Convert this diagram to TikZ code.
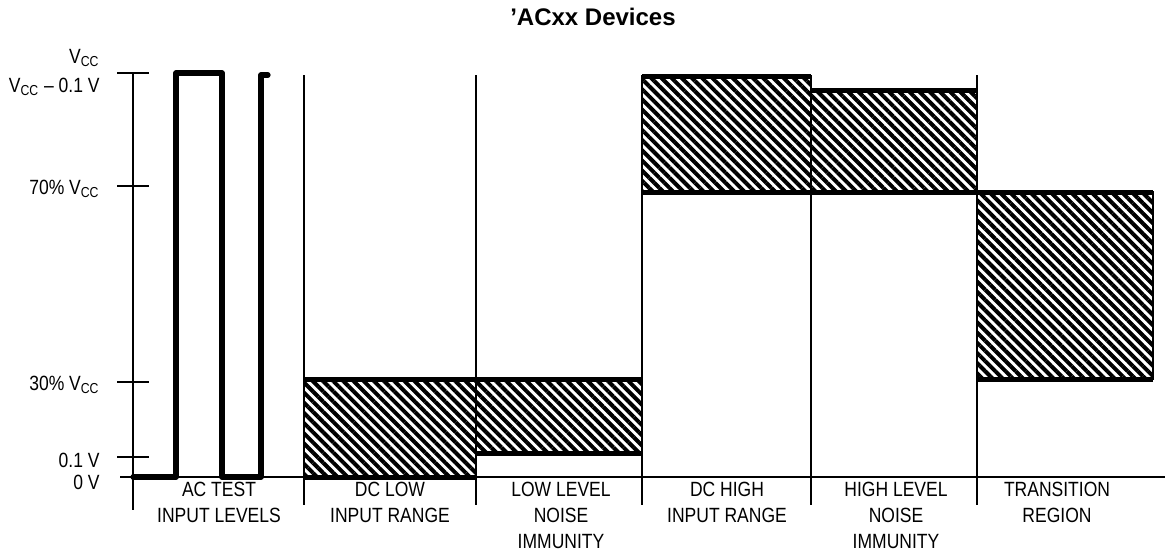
\documentclass[tikz,border=0pt]{standalone}
\usepackage{fontspec}
\setmainfont{Liberation Sans}[FakeStretch=0.85]
\newfontfamily\titlefont{Liberation Sans}
\usetikzlibrary{patterns.meta}
\newcommand{\Vcc}{V\textsubscript{CC}}
\tikzset{
  thinline/.style={line width=0.9pt},
  wave/.style={line width=2.6pt, line join=round, line cap=round},
  hatchbox/.style={line width=1.1pt, pattern={Lines[angle=-45, distance=3.6pt, line width=2pt]}},
  boxedge/.style={line width=2.5pt},
  lvl/.style={anchor=east, inner sep=0pt, font=\fontsize{10.3}{12}\selectfont},
  col/.style={anchor=north, inner sep=0pt, align=center, font=\fontsize{10.3}{13}\selectfont},
  titletext/.style={font=\titlefont\bfseries\fontsize{12}{14}\selectfont},
}

\begin{document}
\begin{tikzpicture}[x=0.5pt, y=-0.5pt]
  \useasboundingbox (0,0) rectangle (1170,557);
  \node[titletext] (title) at (593,17) {’ACxx Devices};

  % axis, ticks and column borders
  \draw[thinline] (133,73) -- (133,510);
  \foreach \y in {73,186,382,457} \draw[thinline] (117,\y) -- (149,\y);
  \draw[thinline] (120,477) -- (1165,477);
  \foreach \x in {304,476,642,811,977} \draw[thinline] (\x,75) -- (\x,505);

  % hatched ranges
  \foreach \xa/\xb/\ya/\yb in {304/476/379/477, 476/642/379/453, 642/811/76/192, 811/977/90/192, 977/1153/192/379} {
    \draw[hatchbox] (\xa,\ya) rectangle (\xb,\yb);
    \draw[boxedge] (\xa,\ya) -- (\xb,\ya) (\xa,\yb) -- (\xb,\yb);
  }

  % test waveform
  \draw[wave] (133,477) -- (176,477) -- (176,73) -- (222,73) -- (222,477) -- (261,477) -- (261,75) -- (268,75);

  % level labels
  \node[lvl] (lvl1) at (100,58) {\Vcc};
  \node[lvl] (lvl2) at (100,87) {\Vcc{} – 0.1 V};
  \node[lvl] (lvl3) at (100,189) {70\% \Vcc};
  \node[lvl] (lvl4) at (100,385) {30\% \Vcc};
  \node[lvl] (lvl5) at (100,460) {0.1 V};
  \node[lvl] (lvl6) at (100,482) {0 V};

  % column labels
  \node[col] (col1) at (219,482) {AC TEST\\INPUT LEVELS};
  \node[col] (col2) at (390,482) {DC LOW\\INPUT RANGE};
  \node[col] (col3) at (561,482) {LOW LEVEL\\NOISE\\IMMUNITY};
  \node[col] (col4) at (727,482) {DC HIGH\\INPUT RANGE};
  \node[col] (col5) at (896,482) {HIGH LEVEL\\NOISE\\IMMUNITY};
  \node[col] (col6) at (1057,482) {TRANSITION\\REGION};
\end{tikzpicture}
\end{document}
